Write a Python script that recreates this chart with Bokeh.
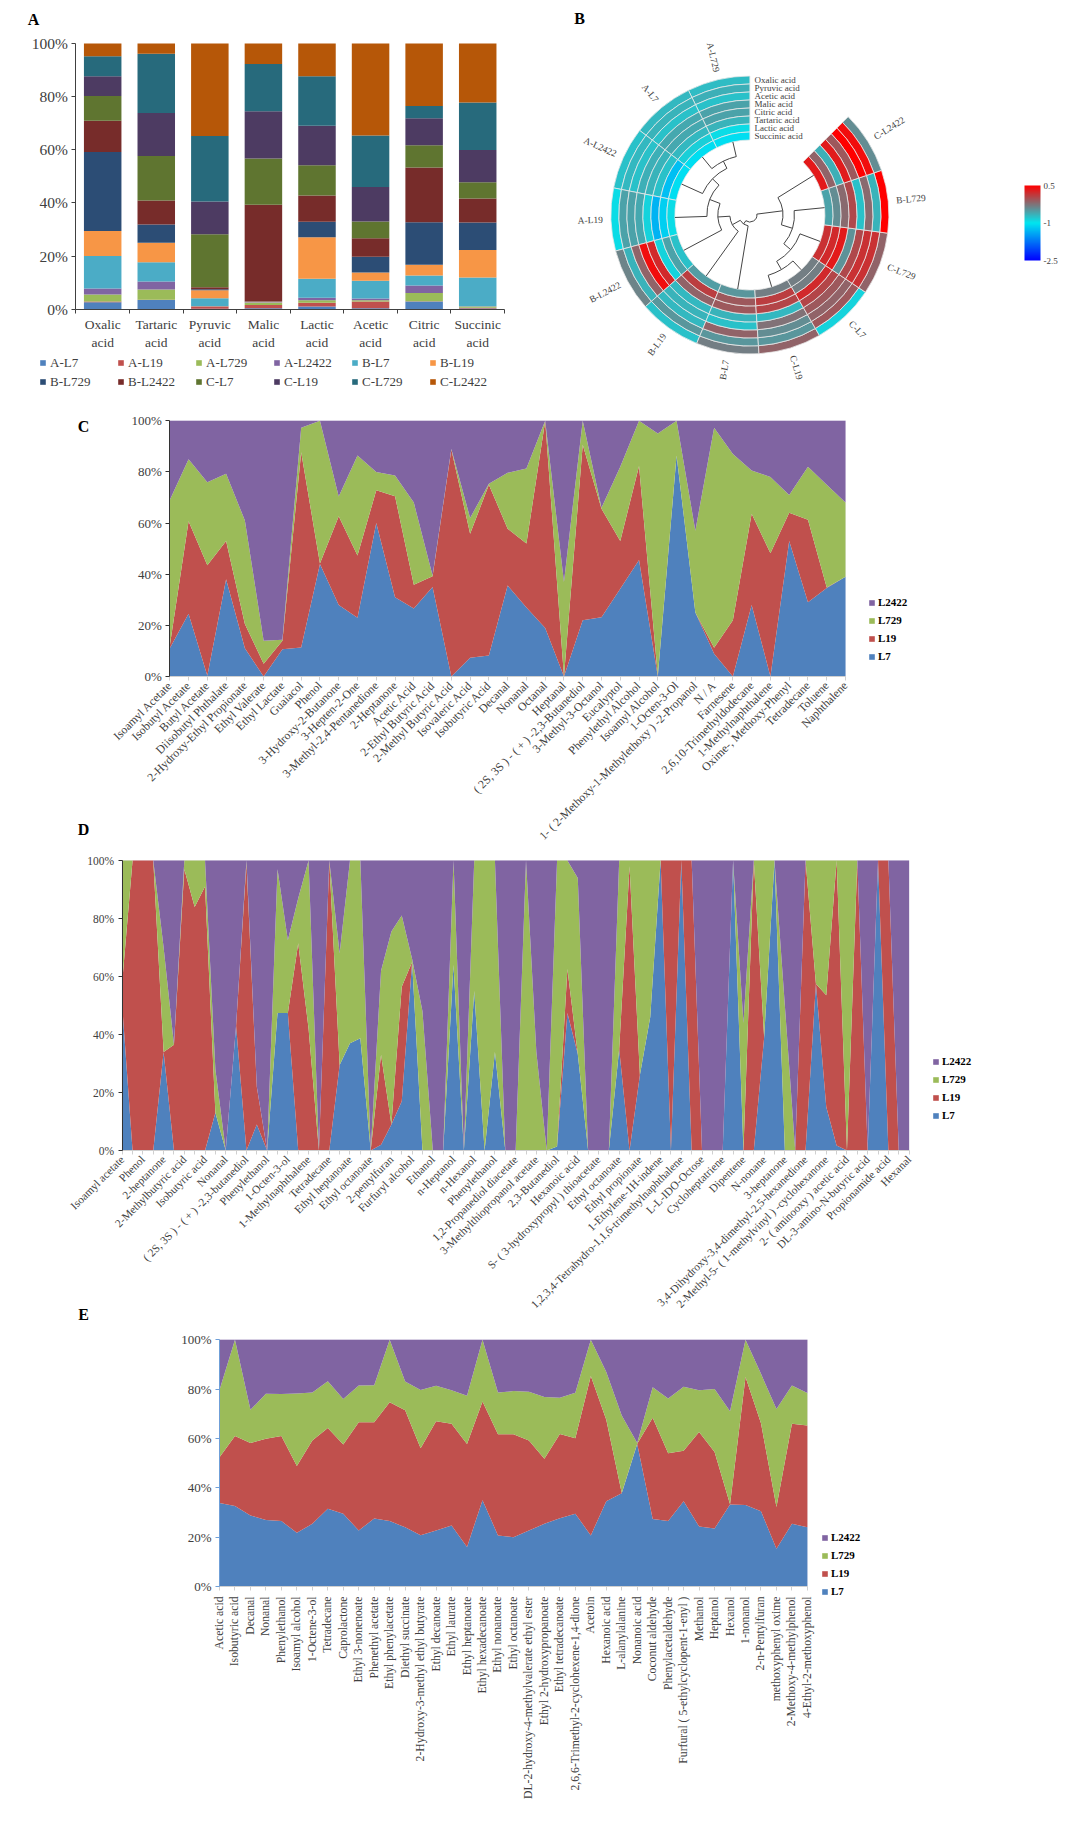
import math
import numpy as np
from bokeh.plotting import figure
from bokeh.layouts import column, row
from bokeh.embed import file_html
from bokeh.resources import INLINE
from bokeh.models import (ColumnDataSource, Range1d, FixedTicker, PrintfTickFormatter, Legend, LegendItem,
                          Label, LinearColorMapper, ColorBar, BoxAnnotation)

# ---------- Panel A ----------
acids_a = ["Oxalic\nacid", "Tartaric\nacid", "Pyruvic\nacid", "Malic\nacid", "Lactic\nacid", "Acetic\nacid", "Citric\nacid", "Succinic\nacid"]
a_groups = ["A-L7", "A-L19", "A-L729", "A-L2422", "B-L7", "B-L19", "B-L729", "B-L2422", "C-L7", "C-L19", "C-L729", "C-L2422"]
a_l7 = [2.6, 3.5, 0.2, 0.4, 1.0, 0.4, 2.9, 0.3]
a_l19 = [0.3, 0.1, 0.8, 1.2, 1.4, 2.5, 0.1, 0.2]
a_l729 = [2.6, 3.8, 0.1, 0.7, 1.0, 0.5, 3.1, 0.5]
a_l2422 = [2.3, 3.0, 0.1, 0.2, 0.9, 0.6, 2.8, 0.1]
b_l7 = [12.2, 7.3, 2.9, 0.1, 7.2, 6.7, 3.8, 10.8]
b_l19 = [9.4, 7.3, 3.0, 0.2, 15.6, 3.1, 4.0, 10.4]
b_l729 = [29.8, 6.9, 0.4, 0.1, 5.8, 5.9, 16.0, 10.3]
b_l2422 = [11.7, 9.0, 0.8, 36.4, 9.9, 7.0, 20.6, 9.1]
c_l7 = [9.3, 16.8, 19.9, 17.4, 11.4, 6.3, 8.4, 6.1]
c_l19 = [7.5, 16.1, 12.3, 17.8, 14.8, 13.0, 10.2, 12.1]
c_l729 = [7.5, 22.3, 24.7, 17.8, 18.7, 19.4, 4.6, 17.9]
c_l2422 = [4.8, 3.9, 34.8, 7.7, 12.3, 34.6, 23.5, 22.2]

# ---------- Panel B ----------
ring_rows = ["Oxalic acid", "Pyruvic acid", "Acetic acid", "Malic acid", "Citric acid", "Tartaric acid", "Lactic acid", "Succinic acid"]
ring_cols = ["A-L729", "A-L7", "A-L2422", "A-L19", "B-L2422", "B-L19", "B-L7", "C-L19", "C-L7", "C-L729", "B-L729", "C-L2422"]
h_a_l729 = [-0.73, -0.64, -0.76, -0.56, -0.56, -0.67, -0.93, -1.05]
h_a_l7 = [-0.7, -0.67, -0.76, -0.6, -0.6, -0.7, -0.85, -1.05]
h_a_l2422 = [-0.76, -0.7, -0.76, -0.64, -0.67, -0.76, -1.25, -1.05]
h_a_l19 = [-0.93, -0.56, -0.56, -0.6, -0.88, -1.33, -1.15, -0.93]
h_b_l2422 = [-0.36, -0.67, -0.15, 0.41, 0.22, -0.88, -0.56, -0.76]
h_b_l19 = [-0.76, -0.48, -0.7, -0.67, -0.7, -0.15, 0.1, -0.52]
h_b_l7 = [-0.33, -0.48, -0.15, -0.76, -0.67, -0.08, -0.08, -0.48]
h_c_l19 = [-0.15, -0.48, -0.42, -0.25, -0.7, 0.05, 0.1, -0.33]
h_c_l7 = [-0.88, -0.08, -0.15, -0.08, 0.05, 0.22, -0.33, -0.33]
h_c_l729 = [-0.15, 0.18, 0.18, 0.02, -0.45, 0.33, 0.22, 0.18]
h_b_l729 = [0.5, -0.67, -0.2, -0.76, 0.02, -0.2, -0.42, -0.56]
h_c_l2422 = [-0.42, 0.41, 0.5, -0.08, 0.32, -0.64, -0.15, 0.33]
# dendrogram: (child, child, merge radius); leaves are indices into ring_cols
dendro_left = ((((((0, 1, 60), 2, 52), 3, 43), 4, 32), 5, 20), 6, 11)
dendro_right = (11, (10, (9, (7, 8, 63), 53.5), 44.5), 33)
dendro_root = (dendro_left, dendro_right, 7)

# ---------- Panel C ----------
names_c = ["Isoamyl Acetate", "Isobutyl Acetate", "Butyl Acetate", "Diisobutyl Phthalate", "2-Hydroxy-Ethyl Propionate",
           "Ethyl Valerate", "Ethyl Lactate", "Guaiacol", "Phenol", "3-Hydroxy-2-Butanone", "3-Hepten-2-One",
           "3-Methyl-2,4-Pentanedione", "2-Heptanone", "Acetic Acid", "2-Ethyl Butyric Acid", "2-Methyl Butyric Acid",
           "Isovaleric Acid", "Isobutyric Acid", "Decanal", "Nonanal", "Octanal", "Heptanal",
           "( 2S, 3S ) - ( + ) -2,3-Butanediol", "3-Methyl-3-Octanol", "Eucalyptol", "Phenylethyl Alcohol",
           "Isoamyl Alcohol", "1-Octen-3-Ol", "1- ( 2-Methoxy-1-Methylethoxy ) -2-Propanol", "N / A", "Farnesene",
           "2,6,10-Trimethyldodecane", "1-Methylnaphthalene", "Oxime-, Methoxy-Phenyl", "Tetradecane", "Toluene", "Naphthalene"]
c_top_l7 = [11, 24.5, 0.3, 38, 11, 0, 10.7, 11.3, 44, 28, 23, 60, 31, 26.6, 35, 0, 7.3, 8.2, 35.6, 27, 19, 0, 22, 23.2, 34.3, 45.6, 0, 86.4, 25, 8.9, 0, 28, 0, 53, 29, 34.6, 39]
c_top_l19 = [12, 60.7, 43.5, 53, 20.5, 5, 14, 87.7, 44.2, 62.7, 47.3, 72.8, 70.5, 35.9, 39.2, 88.8, 55.8, 75, 57.8, 52, 99.9, 0, 90.6, 65.6, 53, 82.3, 0.3, 86.4, 25, 11.2, 22, 63.6, 48.2, 64, 61.3, 34.8, 39]
c_top_l729 = [69, 85, 76, 79.3, 61, 14, 14.4, 97.3, 100, 70.4, 86.4, 80, 78.6, 68, 39.5, 89, 62, 75.4, 79.7, 81.3, 100, 37, 100, 66, 82, 100, 95, 100, 57, 97.3, 87, 80.6, 78, 71, 82, 75, 68]

# ---------- Panel D (labels on every second point) ----------
names_d = ["Isoamyl acetate", "Phenol", "2-heptanone", "2-Methylbutyric acid", "Isobutyric acid", "Nonanal",
           "( 2S, 3S ) - ( + ) -2,3-butanediol", "Phenylethanol", "1-Octen-3-ol", "1-Methylnaphthalene", "Tetradecane",
           "Ethyl heptanoate", "Ethyl octanoate", "2-pentylfuran", "Furfuryl alcohol", "Ethanol", "n-Heptanol", "n-Hexanol",
           "Phenylethanol", "1,2-Propanediol diacetate", "3-Methylthiopropanol acetate", "2,3-Butanediol", "Hexanoic acid",
           "S- ( 3-hydroxypropyl ) thioacetate", "Ethyl octanoate", "Ethyl propionate", "1-Ethylene-1H-indene",
           "1,2,3,4-Tetrahydro-1,1,6-trimethylnaphthalene", "L-L-IDO-Octose", "Cycloheptatriene", "Dipentene", "N-nonane",
           "3-heptanone", "3,4-Dihydroxy-3,4-dimethyl-2,5-hexanedione", "2-Methyl-5- ( 1-methylvinyl ) -cyclohexanone",
           "2- ( aminooxy ) acetic acid", "DL-3-amino-N-butyric acid", "Propionamide acid", "Hexanal"]
d_top_l7 = [50, 0, 0, 0, 34, 0, 0, 0, 0, 13, 0, 43, 0, 9, 0, 47.4, 47.4, 0, 0, 0, 0, 29.5, 37, 38.7, 0, 2, 9, 17, 65, 0, 0, 0, 64, 0, 55, 0, 34, 0, 0,
            0, 0, 0, 1.4, 47.4, 33.3, 0, 0, 0, 35, 0, 26, 46, 100, 0, 100, 0, 0, 0, 0, 100, 0, 0, 39, 100, 0, 0, 0, 57.5, 15, 1.7, 0, 0, 0, 100, 0, 0, 0]
d_top_l19 = [58, 100, 100, 100, 34, 36.5, 97, 84, 91, 13, 0, 43, 99, 22, 0, 47.4, 47.4, 71.5, 42, 0, 100, 29.5, 37, 38.7, 0, 33, 9, 56.5, 65, 0, 0, 0, 64, 0, 55, 0, 34, 0, 0,
             0, 0, 0, 1.4, 62.6, 33.3, 0, 0, 0, 35, 98, 26, 46, 100, 100, 100, 100, 0, 0, 0, 100, 0, 100, 39, 100, 0, 0, 100, 57.5, 53.5, 100, 0, 100, 0, 100, 100, 0, 0]
d_top_l729 = [100, 100, 100, 100, 70, 36.5, 100, 100, 100, 28, 0, 43, 100, 22, 0, 97, 72.5, 87, 100, 0, 100, 68, 100, 100, 0, 62, 75.5, 81, 66, 48, 0, 0, 100, 0, 100, 100, 100, 0, 0,
              100, 34, 0, 100, 100, 94, 0, 0, 0, 100, 100, 100, 100, 100, 100, 100, 100, 0, 0, 0, 100, 44, 100, 100, 100, 50, 0, 100, 100, 100, 100, 100, 100, 0, 100, 100, 0, 0]

# ---------- Panel E ----------
names_e = ["Acetic acid", "Isobutyric acid", "Decanal", "Nonanal", "Phenylethanol", "Isoamyl alcohol", "1-Octene-3-ol",
           "Tetradecane", "Caprolactone", "Ethyl 3-nonenoate", "Phenethyl acetate", "Ethyl phenylacetate", "Diethyl succinate",
           "2-Hydroxy-3-methyl ethyl butyrate", "Ethyl decanoate", "Ethyl laurate", "Ethyl heptanoate", "Ethyl hexadecanoate",
           "Ethyl nonanoate", "Ethyl octanoate", "DL-2-hydroxy-4-methylvalerate ethyl ester", "Ethyl 2-hydroxypropanoate",
           "Ethyl tetradecanoate", "2,6,6-Trimethyl-2-cyclohexene-1,4-dione", "Acetoin", "Hexanoic acid", "L-alanylalanine",
           "Nonanoic acid", "Coconut aldehyde", "Phenylacetaldehyde", "Furfural ( 5-ethylcyclopent-1-enyl )", "Methanol",
           "Heptanol", "Hexanol", "1-nonanol", "2-n-Pentylfuran", "methoxyphenyl oxime", "2-Methoxy-4-methylphenol", "4-Ethyl-2-methoxyphenol"]
e_top_l7 = [33.8, 32.6, 28.8, 27, 26.5, 21.8, 25.4, 31.5, 29.5, 22.7, 27.6, 26.5, 24, 20.8, 22.7, 24.7, 16, 35, 20.7, 20, 22.7, 25.4, 27.7, 29.5, 20.7, 34.6, 37.8, 57.8, 27.4, 26.5, 34.6, 24.3, 23.5, 33.2, 33, 30.5, 15.3, 25.4, 24]
e_top_l19 = [52.4, 61, 58.2, 59.9, 61, 48.8, 59.2, 64.2, 57.6, 66.6, 66.6, 74.7, 71.4, 56, 67, 66, 57.8, 75, 61.7, 61.7, 59.2, 51.8, 61.8, 60.1, 85.3, 67.6, 37.9, 57.9, 68.4, 54, 55, 62.6, 54.5, 33.3, 84.9, 66.2, 32.2, 66, 65.3]
e_top_l729 = [79.7, 100, 71.6, 78.1, 78, 78.2, 78.6, 83.2, 76, 81.5, 81.6, 100, 83.1, 79.7, 81.4, 79.5, 77.3, 100, 78.6, 79.2, 78.9, 76.8, 76.5, 78.5, 100, 86.9, 69.3, 58.2, 80.8, 76.2, 81, 79.5, 80.1, 71, 100, 86.2, 72, 81.5, 78.4]

SERIES = ["L7", "L19", "L729", "L2422"]
AREA_COL = ["#4F81BD", "#C0504D", "#9BBB59", "#8064A2"]
BAR_COL = ["#4F81BD", "#C0504D", "#9BBB59", "#8064A2", "#4BACC6", "#F79646", "#2C4D75", "#772C2A", "#5F7530", "#4D3B62", "#276A7C", "#B65708"]
FONT = "Liberation Serif"
TXT = "#404040"
PIX = {}


def make(box, frame, xlim, ylim):
    """box = figure's (left, top, right, bottom) in image pixels, frame = the same for the plot area; xlim/ylim = data limits of that area."""
    x0, y0, x1, y1 = box
    fl, ft, fr, fb = frame
    sx = (xlim[1] - xlim[0]) / (fr - fl)
    sy = (ylim[1] - ylim[0]) / (fb - ft)
    xr = Range1d(xlim[0] - (fl - x0) * sx, xlim[1] + (x1 - fr) * sx)
    yr = Range1d(ylim[0] - (y1 - fb) * sy, ylim[1] + (ft - y0) * sy)
    p = figure(width=x1 - x0, height=y1 - y0, output_backend="svg", toolbar_location=None, frame_align=False, x_range=xr, y_range=yr,
               min_border_left=0, min_border_right=0, min_border_top=0, min_border_bottom=0)
    p.grid.visible = False
    p.outline_line_color = None
    p.background_fill_color = None
    p.border_fill_color = None
    p.xaxis.fixed_location = ylim[0]
    p.yaxis.fixed_location = xlim[0]
    p.xaxis.bounds = tuple(xlim)
    p.yaxis.bounds = tuple(ylim)
    p.xaxis.level = "overlay"
    p.yaxis.level = "overlay"
    PIX[id(p)] = (x0, y1, 1 / sx, 1 / sy, xr.start, yr.start)
    return p


def letter(p, t, cx, cy):
    x0, y1, kx, ky, xs, ys = PIX[id(p)]
    p.add_layout(Label(x=xs + (cx - x0) / kx, y=ys + (y1 - cy) / ky, text=t, text_font=FONT, text_font_size="16px",
                       text_font_style="bold", text_color="#000000", text_align="center", text_baseline="middle"))


def style_y(p, color, size):
    ax = p.yaxis[0]
    ax.ticker = FixedTicker(ticks=[0, 20, 40, 60, 80, 100])
    ax.formatter = PrintfTickFormatter(format="%d%%")
    ax.axis_line_color = color
    ax.major_tick_line_color = color
    ax.major_tick_in = 0
    ax.major_tick_out = 4
    ax.minor_tick_line_color = None
    ax.major_label_text_font = FONT
    ax.major_label_text_font_size = size
    ax.major_label_text_color = TXT
    ax.major_label_standoff = 4


def area_panel(box, frame, tops, label_ticks, overrides, orient, tick_size, label_size, axis_col, legend_xy, minor=None, standoff=3):
    n = len(tops[0])
    p = make(box, frame, (0, n - 1), (0, 100))
    cum = [np.array(a, dtype=float) for a in tops] + [np.full(n, 100.0)]
    parts = [cum[0]] + [cum[i] - cum[i - 1] for i in range(1, 4)]
    src = ColumnDataSource({"x": list(range(n)), **{s: parts[i] for i, s in enumerate(SERIES)}})
    rs = p.varea_stack(stackers=SERIES, x="x", color=AREA_COL, source=src)
    ax = p.xaxis[0]
    ax.ticker = FixedTicker(ticks=label_ticks, minor_ticks=minor or [])
    ax.major_label_overrides = overrides
    ax.major_label_orientation = orient
    ax.major_label_text_font = FONT
    ax.major_label_text_font_size = label_size
    ax.major_label_text_color = TXT
    ax.major_label_standoff = standoff
    ax.axis_line_color = "#d0d0d0"
    ax.major_tick_line_color = "#d0d0d0"
    ax.minor_tick_line_color = "#d0d0d0"
    ax.major_tick_in = 0
    ax.major_tick_out = 4
    ax.minor_tick_in = 0
    ax.minor_tick_out = 4
    style_y(p, axis_col, tick_size)
    p.add_layout(BoxAnnotation(left=0, right=n - 1, bottom=0, top=100, fill_alpha=0, line_color="#cfc6e0", line_width=1, level="underlay"))
    lg = Legend(items=[LegendItem(label=SERIES[i], renderers=[rs[i]]) for i in (3, 2, 1, 0)],
                location=legend_xy, glyph_width=7, glyph_height=7, label_height=18, spacing=0, padding=0, margin=0,
                label_standoff=3, border_line_color=None, background_fill_alpha=0,
                label_text_font=FONT, label_text_font_size="11px", label_text_font_style="bold", label_text_color="#000000")
    p.add_layout(lg, "center")
    return p


# ---------- A ----------
pa = make((0, 0, 550, 398), (75.4, 43, 504, 308.7), (0, 8), (0, 100))
a_src = ColumnDataSource({"x": [i + 0.5 for i in range(8)], "A-L7": a_l7, "A-L19": a_l19, "A-L729": a_l729, "A-L2422": a_l2422,
                          "B-L7": b_l7, "B-L19": b_l19, "B-L729": b_l729, "B-L2422": b_l2422,
                          "C-L7": c_l7, "C-L19": c_l19, "C-L729": c_l729, "C-L2422": c_l2422})
a_rs = pa.vbar_stack(a_groups, x="x", width=0.7, color=BAR_COL, source=a_src, line_color=None)
ax = pa.xaxis[0]
ax.ticker = FixedTicker(ticks=[i + 0.5 for i in range(8)], minor_ticks=list(range(9)))
ax.major_label_overrides = {i + 0.5: acids_a[i] for i in range(8)}
ax.major_label_text_font = FONT
ax.major_label_text_font_size = "13.5px"
ax.major_label_text_color = TXT
ax.major_tick_line_color = None
ax.major_tick_out = 0
ax.major_tick_in = 0
ax.minor_tick_in = 0
ax.minor_tick_out = 4
ax.minor_tick_line_color = "#404040"
ax.axis_line_color = "#404040"
ax.major_label_standoff = 4
style_y(pa, "#404040", "15.5px")
a_leg = Legend(items=[LegendItem(label=g, renderers=[a_rs[i]]) for i, g in enumerate(a_groups)],
               location=(39, 7), orientation="horizontal", ncols=6, glyph_width=7, glyph_height=7, label_height=19,
               label_width=67, label_standoff=4, spacing=0, padding=0, margin=0, border_line_color=None, background_fill_alpha=0,
               label_text_font=FONT, label_text_font_size="13px", label_text_color=TXT)
pa.add_layout(a_leg, "center")
letter(pa, "A", 33, 19)

# ---------- B ----------
CX, CY = 749.4, 214.5
pb = make((550, 0, 1072, 398), (550, 0, 1072, 398), (550 - CX, 1072 - CX), (CY - 398, CY))
pb.xaxis.visible = False
pb.yaxis.visible = False
R0, RSTEP, START, STEP = 75.0, 8.0, 90.0, 26.25
stops = [(255, 0, 0), (0, 230, 240), (0, 0, 255)]
palette = []
for i in range(256):
    t = i / 255
    a, c = (stops[2], stops[1]) if t < 0.5 else (stops[1], stops[0])
    f = t * 2 if t < 0.5 else t * 2 - 1
    palette.append("#%02x%02x%02x" % tuple(int(round(a[j] + (c[j] - a[j]) * f)) for j in range(3)))
mapper = LinearColorMapper(palette=palette, low=-2.5, high=0.5)
h_cols = [h_a_l729, h_a_l7, h_a_l2422, h_a_l19, h_b_l2422, h_b_l19, h_b_l7, h_c_l19, h_c_l7, h_c_l729, h_b_l729, h_c_l2422]
cells = {"v": [], "ri": [], "ro": [], "s": [], "e": []}
for ci, vals in enumerate(h_cols):
    for ri, v in enumerate(vals):
        cells["v"].append(v)
        cells["ro"].append(R0 + RSTEP * (8 - ri))
        cells["ri"].append(R0 + RSTEP * (7 - ri))
        cells["s"].append(math.radians(START + STEP * ci))
        cells["e"].append(math.radians(START + STEP * (ci + 1)))
pb.annular_wedge(x=0, y=0, inner_radius="ri", outer_radius="ro", start_angle="s", end_angle="e", source=ColumnDataSource(cells),
                 fill_color={"field": "v", "transform": mapper}, line_color="#e8e8e8", line_width=0.8)
pb.text(x=[4.5] * 8, y=[R0 + RSTEP * (7.5 - i) for i in range(8)], text=ring_rows, text_font={"value": FONT},
        text_font_size={"value": "9px"}, text_color=TXT, text_align="left", text_baseline="middle")
for i, name in enumerate(ring_cols):
    th = math.radians(START + STEP * (i + 0.5))
    right = math.cos(th) > 0
    pb.text(x=[147 * math.cos(th)], y=[147 * math.sin(th)], text=[name], angle=[th if right else th - math.pi],
            text_font={"value": FONT}, text_font_size={"value": "9.5px"}, text_color=TXT,
            text_align="left" if right else "right", text_baseline="middle")

seg, arcs = [], []


def walk(node):
    if isinstance(node, int):
        return START + STEP * (node + 0.5), R0
    a1, r1 = walk(node[0])
    a2, r2 = walk(node[1])
    rm = node[2]
    for a, r in ((a1, r1), (a2, r2)):
        th = math.radians(a)
        seg.append((rm * math.cos(th), rm * math.sin(th), r * math.cos(th), r * math.sin(th)))
    arcs.append((rm, math.radians(min(a1, a2)), math.radians(max(a1, a2))))
    return (a1 + a2) / 2, rm


walk(dendro_root)
pb.segment(x0=[s[0] for s in seg], y0=[s[1] for s in seg], x1=[s[2] for s in seg], y1=[s[3] for s in seg], line_color="#444444", line_width=1)
pb.arc(x=[0] * len(arcs), y=[0] * len(arcs), radius=[a[0] for a in arcs], start_angle=[a[1] for a in arcs], end_angle=[a[2] for a in arcs],
       line_color="#444444", line_width=1)
cb = ColorBar(color_mapper=mapper, width=16, height=75, location=(474, 138), ticker=FixedTicker(ticks=[-2.5, -1, 0.5]),
              major_label_overrides={-2.5: "-2.5", -1: "-1", 0.5: "0.5"}, major_label_text_font=FONT, major_label_text_font_size="9px",
              major_label_text_color=TXT, major_tick_line_color=None, minor_tick_line_color=None, bar_line_color=None,
              border_line_color=None, background_fill_alpha=0, padding=0, margin=0, label_standoff=3)
pb.add_layout(cb, "center")
letter(pb, "B", 579, 18)

# ---------- C ----------
pc = area_panel((0, 398, 1072, 846), (169.3, 420.3, 845, 676), [c_top_l7, c_top_l19, c_top_l729], list(range(37)),
                {i: s for i, s in enumerate(names_c)}, math.pi / 4, "13px", "11.8px", "#333333", (868, 181))
letter(pc, "C", 83, 426)
letter(pc, "D", 83, 829)

# ---------- D ----------
pd_ = area_panel((0, 846, 1072, 1325), (121.7, 860, 908.6, 1150), [d_top_l7, d_top_l19, d_top_l729], list(range(0, 77, 2)),
                 {i * 2: s for i, s in enumerate(names_d)}, math.pi / 4, "11.5px", "11.3px", "#333333", (932, 201), minor=list(range(1, 77, 2)))
letter(pd_, "E", 83, 1314)

# ---------- E ----------
pe = area_panel((0, 1325, 1072, 1829), (219, 1339.3, 806.9, 1586), [e_top_l7, e_top_l19, e_top_l729], list(range(39)),
                {i: s for i, s in enumerate(names_e)}, math.pi / 2, "13px", "11.7px", "#6F9FD8", (821, 229), standoff=6)

layout = column(row(pa, pb), pc, pd_, pe)
open("out.html", "w").write(file_html(layout, INLINE))
